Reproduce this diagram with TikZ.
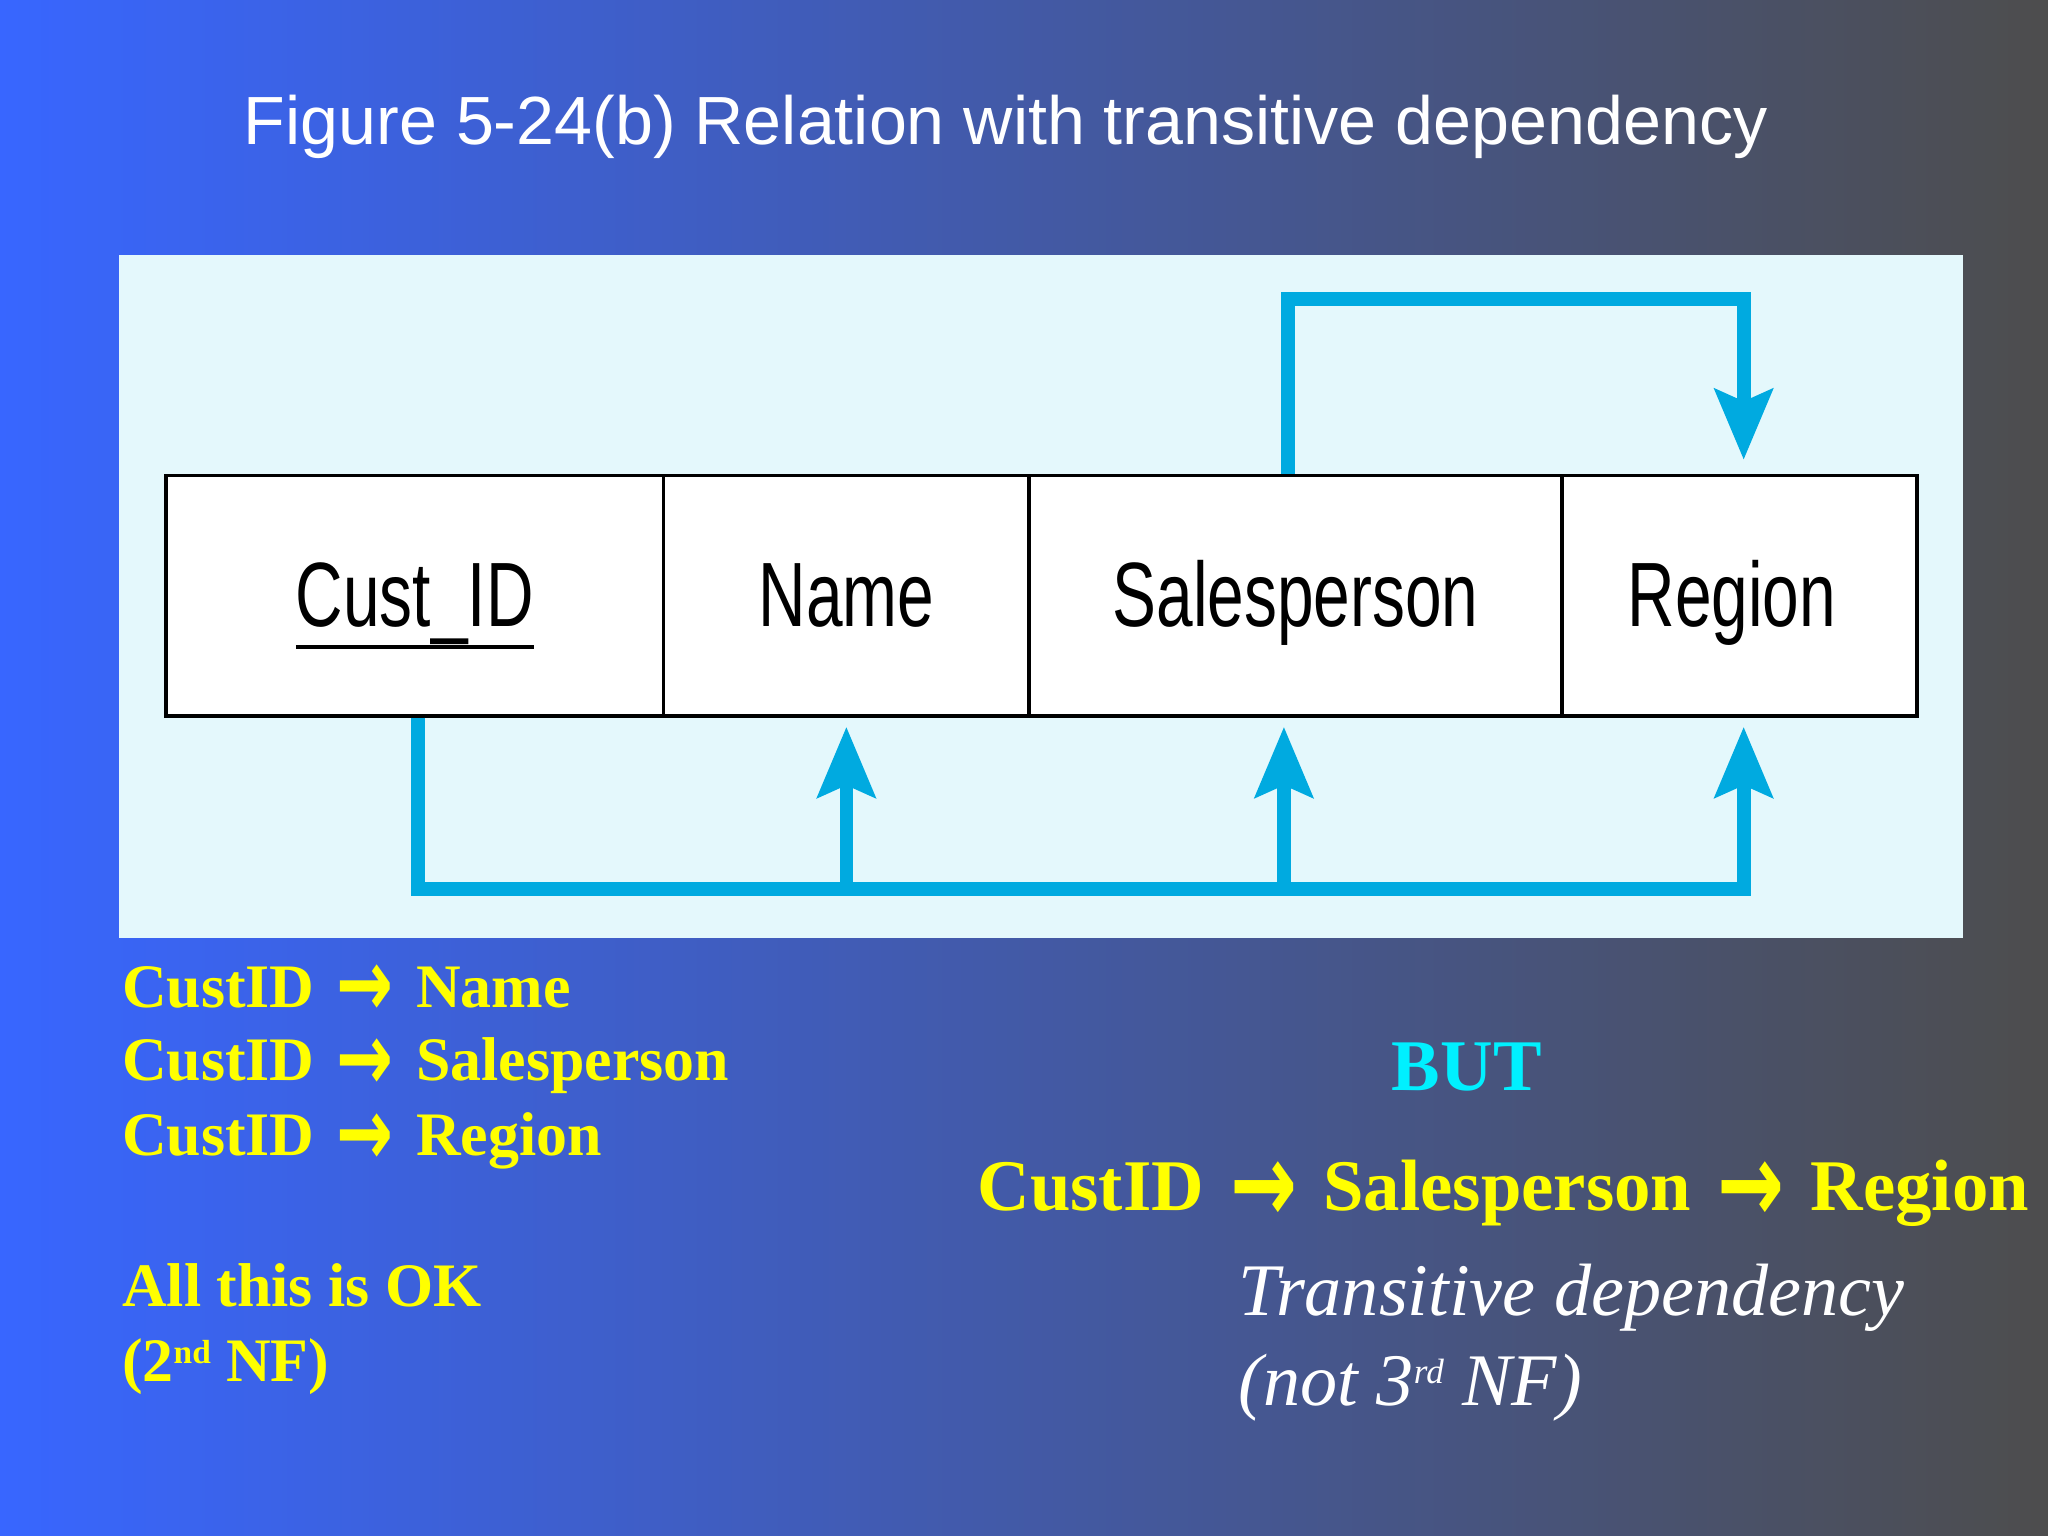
\documentclass[tikz,border=0pt]{standalone}
\usepackage{fontspec}
\setmainfont{Liberation Serif}
\newfontfamily\titlefont{Liberation Sans}
\newfontfamily\cellfont{Liberation Sans}[FakeStretch=0.72]
\newfontfamily\arrowfont{DejaVu Sans}
\usetikzlibrary{arrows.meta,calc}
\definecolor{bgL}{RGB}{56,102,255}
\definecolor{bgR}{RGB}{77,77,77}
\definecolor{panelcol}{RGB}{228,248,252}
\definecolor{conncol}{RGB}{0,170,224}
\definecolor{fdyellow}{RGB}{255,255,0}
\definecolor{butcyan}{RGB}{0,240,255}
\newcommand\dpx{0.37155pt}
\newcommand\fdarr{\hspace{0.36em}\smash{\raisebox{-0.16em}{\scalebox{1.1}[1.55]{\arrowfont\bfseries →}}}\hspace{0.36em}}
\newcommand\keyul[1]{\setbox0\hbox{#1}\rlap{\rule[-6.4pt]{\wd0}{1.1pt}}\box0}
\newcommand\supl[1]{\raisebox{5.1pt}{\fontsize{9.5}{10}\selectfont #1}}
\newcommand\supr[1]{\raisebox{6.3pt}{\fontsize{10}{10}\selectfont #1}}
\begin{document}
\begin{tikzpicture}[x=0.013061cm,y=-0.013061cm,
  cell/.style={draw=black, fill=white, line width=1.1pt, minimum height=184*\dpx,
    inner sep=0pt, font=\cellfont\fontsize{26}{30}\selectfont, text height=22pt, text depth=4.2pt},
  conn/.style={draw=conncol, line width=3.9pt, line join=miter},
  tip/.style={-{Stealth[length=20pt,width=16.3pt,inset=3.4pt]}},
  lhs/.style={font=\bfseries\fontsize{17.6}{21}\selectfont, text=fdyellow, inner sep=0pt, anchor=base west},
  big/.style={font=\bfseries\fontsize{20.7}{24}\selectfont, inner sep=0pt},
  itl/.style={font=\itshape\fontsize{21.1}{25}\selectfont, text=white, inner sep=0pt, anchor=base west}]
\useasboundingbox (0,0) rectangle (1568,1176);
\shade[left color=bgL, right color=bgR] (0,0) rectangle (1568,1176);
\fill[panelcol] (91,195) rectangle (1503,718);

\node[font=\titlefont\fontsize{19.4}{23}\selectfont, text=white, anchor=base, inner sep=0pt] (title) at (770,111)
  {Figure 5-24(b) Relation with transitive dependency};

\node[cell, minimum width=381*\dpx] (cust) at (317.5,456) {\keyul{Cust\_ID}};
\node[cell, minimum width=280*\dpx] (name) at (648,456) {Name};
\node[cell, minimum width=408*\dpx] (sales) at (992,456) {Salesperson};
\node[cell, minimum width=272*\dpx] (region) at (1332,456) {\hspace{-4.5pt}Region};

% connectors
\coordinate (topturn) at (1335,229);
\draw[conn, tip] ($(sales.north)+(-6,0)$) |- (topturn) -- ($(topturn |- region.north)+(0,-10.5)$);
\coordinate (botturn) at (1335,680.5);
\coordinate (bN) at (648,680.5);
\coordinate (bS) at (983,680.5);
\draw[conn, tip] ($(cust.south)+(2.5,0)$) |- (botturn) -- ($(botturn |- region.south)+(0,7)$);
\draw[conn, tip] (bN) -- ($(bN |- name.south)+(0,7)$);
\draw[conn, tip] (bS) -- ($(bS |- sales.south)+(0,7)$);

% left text
\node[lhs] (fd1) at (93,771) {CustID\fdarr Name};
\node[lhs] (fd2) at (93,827.5) {CustID\fdarr Salesperson};
\node[lhs] (fd3) at (93,884.5) {CustID\fdarr Region};
\node[lhs] (ok1) at (93,1000) {All this is OK};
\node[lhs] (ok2) at (93,1057.5) {(2\supl{nd} NF)};

% right text
\node[big, text=butcyan, anchor=base] (but) at (1123,835) {BUT};
\node[big, text=fdyellow, anchor=base west] (chain) at (748,927) {CustID\fdarr Salesperson\fdarr Region};
\node[itl] (trans) at (948,1007) {Transitive dependency};
\node[itl] (not3) at (948,1076) {(not 3\supr{rd} NF)};
\end{tikzpicture}
\end{document}
